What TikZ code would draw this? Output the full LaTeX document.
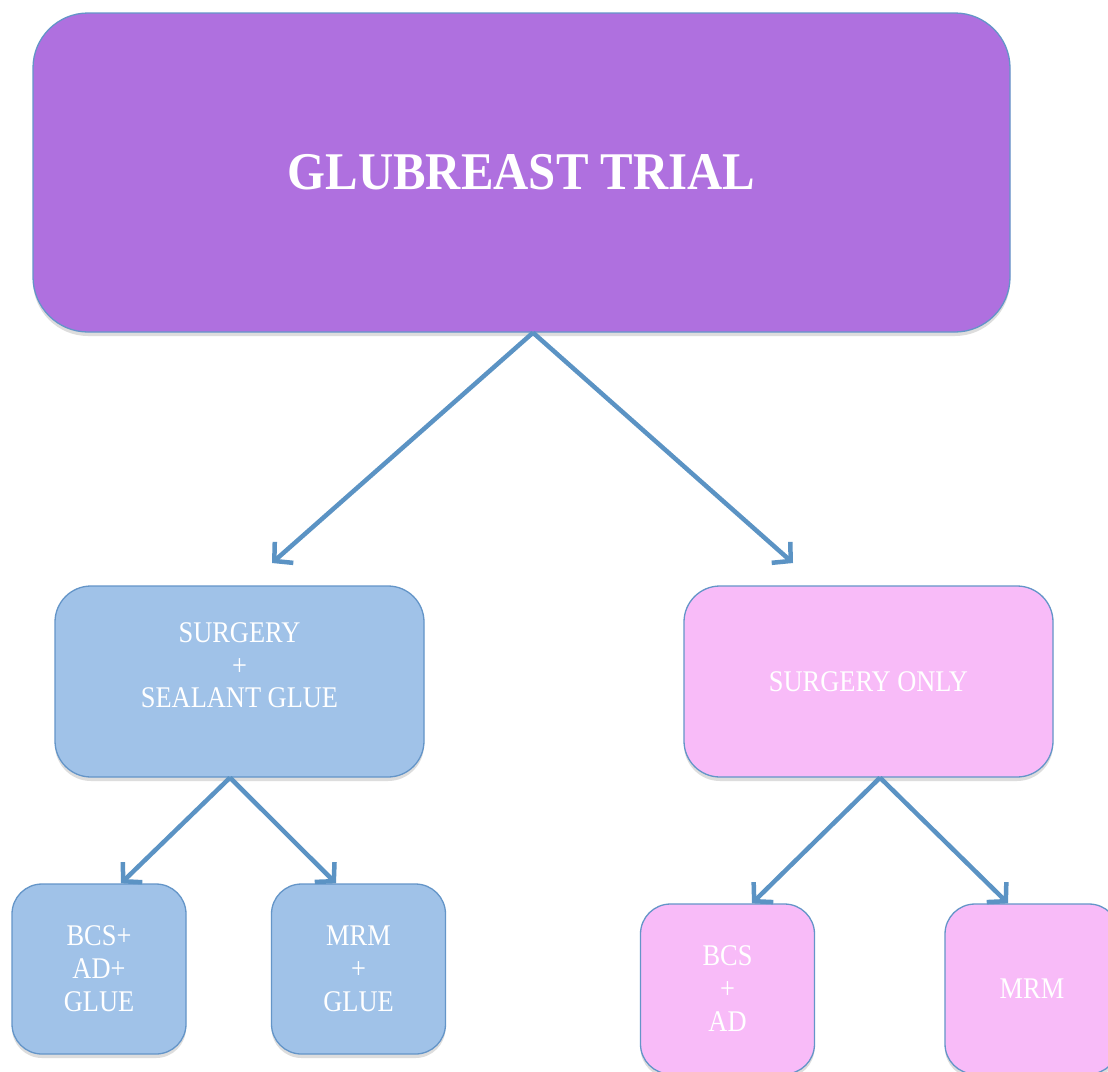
\documentclass[tikz,border=0pt]{standalone}
\usepackage{fontspec}
\setmainfont{Liberation Serif}
\newfontfamily\condfont[FakeStretch=0.88]{Liberation Serif}
\newfontfamily\titlefont[FakeStretch=0.92]{Liberation Serif}
\usetikzlibrary{arrows.meta,shadows}
\definecolor{topfill}{HTML}{AF70DF}
\definecolor{bluefill}{HTML}{A0C2E8}
\definecolor{pinkfill}{HTML}{F8BBF8}
\definecolor{edgeblue}{HTML}{6495C8}
\definecolor{arrowblue}{HTML}{5B93C4}
\begin{document}
\begin{tikzpicture}[x=1pt,y=-1pt,
  box/.style={draw=edgeblue,line width=1.3pt,text=white,align=center,inner sep=0pt,
    drop shadow={shadow xshift=0pt,shadow yshift=-4pt,opacity=0.22,fill=black!60}},
  topbox/.style={box,fill=topfill,minimum width=977pt,minimum height=319pt,rounded corners=55pt,
    font=\titlefont\fontsize{53}{60}\selectfont\bfseries},
  midbox/.style={box,minimum width=369pt,minimum height=191pt,rounded corners=36pt,
    font=\condfont\fontsize{30}{32.5}\selectfont},
  lowbox/.style={box,minimum width=174pt,minimum height=170pt,rounded corners=30pt,
    font=\condfont\fontsize{30}{33}\selectfont},
  link/.style={draw=arrowblue,line width=4.5pt,-{Straight Barb[length=13pt,width=28pt,line width=4.5pt]}}]
\useasboundingbox (0,0) rectangle (1108,1071);
\clip (0,0) rectangle (1108,1071);
\fill[white] (0,0) rectangle (1108,1071);

\node[topbox] (top) at (521.5,172.5) {GLUBREAST TRIAL};

\node[midbox,fill=bluefill] (glue) at (239.5,681.5) {SURGERY\\+\\SEALANT GLUE\\\phantom{X}};
\node[midbox,fill=pinkfill] (only) at (868.5,681.5) {SURGERY ONLY};

\node[lowbox,fill=bluefill] (bcsg) at (99,969) {BCS+\\AD+\\GLUE};
\node[lowbox,fill=bluefill] (mrmg) at (358.5,969) {MRM\\+\\GLUE};
\node[lowbox,fill=pinkfill] (bcs) at (727.5,989) {BCS\\+\\AD};
\node[lowbox,fill=pinkfill] (mrm) at (1032,989) {MRM};

\coordinate (topout) at ([xshift=11.5pt]top.south);
\coordinate (glueend) at (272,563);
\coordinate (onlyend) at (793,563);
\draw[link] (topout) -- (glueend);
\draw[link] (topout) -- (onlyend);

\coordinate (glueout) at ([xshift=-9.5pt]glue.south);
\draw[link] (glueout) -- ([xshift=22pt]bcsg.north);
\draw[link] (glueout) -- ([xshift=-22.5pt]mrmg.north);

\coordinate (onlyout) at ([xshift=11.5pt]only.south);
\draw[link] (onlyout) -- ([xshift=24.5pt]bcs.north);
\draw[link] (onlyout) -- ([xshift=-24pt]mrm.north);
\end{tikzpicture}
\end{document}
